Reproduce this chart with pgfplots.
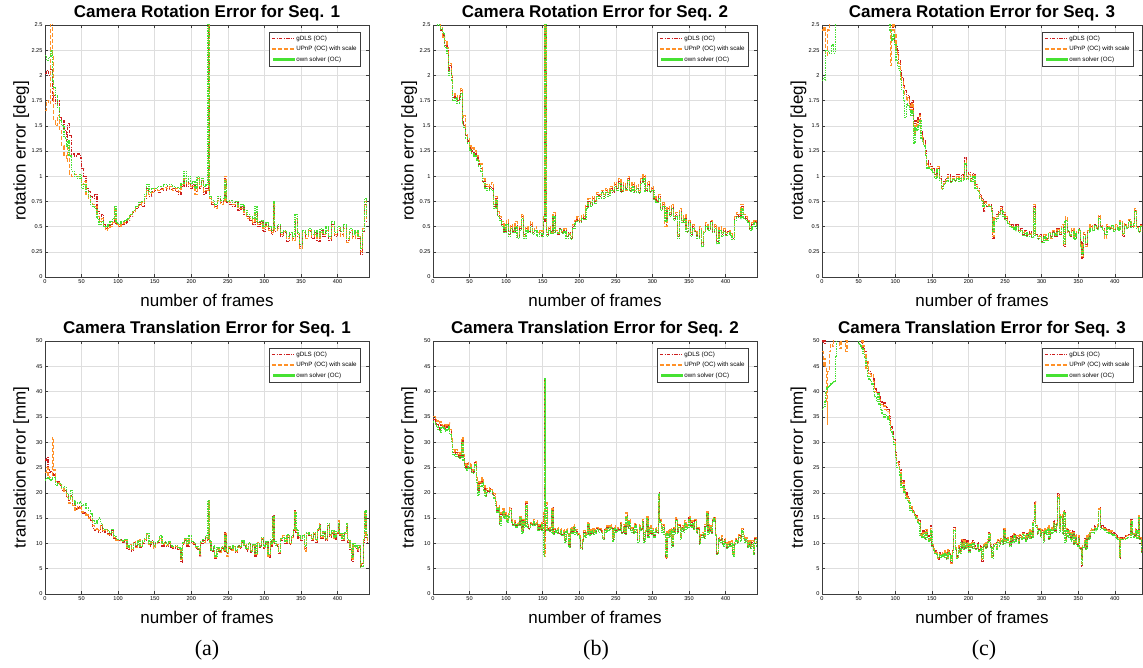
\documentclass[border=0pt]{standalone}
\usepackage{pgfplots}
\usepackage{pgfplotstable}
\usepackage{fontspec}
\setmainfont{Liberation Sans}
\newfontfamily\seriffont{Liberation Serif}
\pgfplotsset{compat=1.18}
\definecolor{lineRed}{RGB}{205,30,30}
\definecolor{lineOrange}{RGB}{255,145,40}
\definecolor{lineGreen}{RGB}{70,225,50}
\definecolor{axgray}{RGB}{60,60,60}

\pgfplotstableread{
x g u o
0 2.02 1.65 2.20
2 2.05 1.75 2.15
5 2.00 1.72 2.18
8 2.06 2.80 2.25
10 1.75 2.20 1.95
12 1.80 1.55 1.88
14 1.72 1.50 1.80
17 1.75 1.60 1.68
20 1.58 1.45 1.55
23 1.55 1.30 1.50
26 1.45 1.20 1.38
29 1.35 1.15 1.30
31 1.52 1.30 1.35
33 1.40 1.02 1.20
36 1.22 1.00 1.05
40 1.20 1.02 1.00
44 1.22 1.00 0.98
48 1.18 0.98 1.02
50 1.08 0.92 0.88
53 1.00 0.95 0.92
56 0.88 0.82 0.85
59 0.85 0.78 0.80
62 0.80 0.74 0.72
65 0.78 0.72 0.70
68 0.82 0.70 0.68
71 0.65 0.60 0.58
74 0.58 0.55 0.52
77 0.62 0.58 0.55
80 0.52 0.50 0.50
83 0.48 0.46 0.50
86 0.50 0.48 0.52
89 0.52 0.50 0.55
92 0.55 0.54 0.58
95 0.65 0.68 0.70
97 0.52 0.52 0.54
100 0.50 0.50 0.52
104 0.52 0.53 0.55
108 0.53 0.54 0.56
112 0.56 0.57 0.58
116 0.60 0.61 0.62
120 0.64 0.65 0.66
124 0.68 0.70 0.70
128 0.72 0.71 0.74
132 0.70 0.74 0.75
136 0.78 0.80 0.82
139 0.88 0.86 0.92
142 0.80 0.82 0.84
146 0.85 0.84 0.88
150 0.86 0.88 0.88
154 0.84 0.86 0.90
158 0.88 0.87 0.90
162 0.86 0.89 0.92
166 0.90 0.88 0.91
170 0.87 0.90 0.92
174 0.88 0.86 0.90
178 0.85 0.88 0.89
182 0.82 0.85 0.88
186 0.90 0.92 0.93
190 0.95 0.98 1.05
193 0.90 0.92 0.95
196 0.95 0.93 1.00
199 0.88 0.90 0.93
202 0.92 0.90 0.95
205 0.85 0.82 0.88
208 0.96 0.98 1.00
211 0.88 0.90 0.92
214 0.95 0.96 0.98
217 0.82 0.85 0.90
220 0.88 0.86 0.92
223 2.80 2.80 2.80
225 0.80 0.78 0.80
228 0.72 0.74 0.76
232 0.70 0.68 0.72
236 0.78 0.76 0.80
240 0.74 0.72 0.76
244 0.76 0.75 0.78
246 0.98 1.00 0.96
248 0.74 0.76 0.75
252 0.72 0.74 0.76
256 0.70 0.72 0.74
260 0.74 0.72 0.75
264 0.66 0.68 0.70
268 0.70 0.68 0.72
272 0.62 0.64 0.66
276 0.60 0.58 0.62
280 0.56 0.58 0.60
284 0.52 0.54 0.58
287 0.65 0.62 0.70
290 0.50 0.52 0.54
294 0.55 0.53 0.56
298 0.45 0.48 0.50
302 0.52 0.50 0.54
306 0.48 0.46 0.50
310 0.42 0.44 0.46
312 0.70 0.72 0.75
314 0.45 0.46 0.48
318 0.50 0.48 0.52
322 0.40 0.42 0.44
326 0.44 0.45 0.46
330 0.35 0.38 0.40
334 0.42 0.40 0.44
338 0.38 0.36 0.40
342 0.55 0.58 0.62
345 0.40 0.42 0.44
348 0.30 0.28 0.32
352 0.42 0.44 0.46
356 0.40 0.38 0.42
360 0.45 0.46 0.48
364 0.38 0.40 0.42
368 0.44 0.42 0.46
372 0.35 0.38 0.40
376 0.46 0.44 0.48
380 0.40 0.42 0.43
384 0.48 0.46 0.50
388 0.36 0.38 0.40
392 0.52 0.50 0.55
396 0.40 0.42 0.44
400 0.46 0.48 0.50
404 0.42 0.40 0.45
408 0.50 0.48 0.52
412 0.36 0.34 0.38
416 0.44 0.46 0.48
420 0.40 0.38 0.42
424 0.45 0.44 0.46
428 0.38 0.40 0.40
431 0.22 0.25 0.28
434 0.45 0.48 0.46
437 0.72 0.75 0.78
440 0.55 0.58 0.60
}\tRa

\pgfplotstableread{
x g u o
0 2.80 2.80 2.80
6 2.52 2.55 2.50
10 2.45 2.48 2.46
13 2.40 2.38 2.42
16 2.30 2.35 2.28
19 2.25 2.28 2.22
21 2.05 2.10 2.00
23 2.10 2.12 2.05
25 1.98 2.00 1.95
27 1.78 1.80 1.75
30 1.80 1.82 1.78
33 1.75 1.78 1.72
36 1.78 1.80 1.76
38 1.85 1.87 1.82
40 1.55 1.58 1.52
42 1.50 1.60 1.48
44 1.40 1.42 1.38
47 1.35 1.38 1.33
50 1.28 1.30 1.26
53 1.25 1.28 1.22
56 1.22 1.25 1.20
59 1.18 1.20 1.16
62 1.12 1.15 1.10
65 1.08 1.12 1.05
68 0.95 0.98 0.94
71 0.90 0.92 0.88
74 0.88 0.90 0.86
77 0.90 0.92 0.88
80 0.88 0.94 0.86
83 0.70 0.72 0.68
86 0.78 0.80 0.76
88 0.62 0.65 0.60
91 0.58 0.60 0.56
94 0.52 0.55 0.50
97 0.45 0.48 0.44
100 0.55 0.57 0.52
103 0.42 0.45 0.40
106 0.50 0.52 0.48
109 0.45 0.46 0.44
112 0.52 0.55 0.50
115 0.40 0.42 0.38
118 0.48 0.50 0.46
121 0.60 0.62 0.58
124 0.42 0.40 0.38
127 0.48 0.50 0.46
130 0.45 0.46 0.44
133 0.52 0.55 0.50
136 0.44 0.45 0.42
139 0.48 0.50 0.46
142 0.42 0.44 0.40
146 0.45 0.46 0.44
149 0.40 0.42 0.40
151 0.55 0.60 0.58
153 2.80 2.80 2.80
155 0.42 0.44 0.40
158 0.48 0.50 0.46
161 0.45 0.44 0.43
164 0.62 0.64 0.60
167 0.45 0.46 0.44
170 0.42 0.44 0.43
173 0.48 0.46 0.47
176 0.44 0.45 0.43
179 0.46 0.48 0.45
182 0.40 0.42 0.38
185 0.44 0.43 0.42
188 0.38 0.40 0.37
191 0.50 0.52 0.48
194 0.55 0.56 0.54
197 0.58 0.60 0.56
200 0.55 0.56 0.54
203 0.60 0.62 0.58
206 0.58 0.60 0.57
209 0.70 0.72 0.68
212 0.75 0.78 0.74
215 0.72 0.74 0.70
218 0.78 0.80 0.76
221 0.75 0.76 0.73
224 0.82 0.84 0.80
227 0.80 0.82 0.78
230 0.85 0.86 0.84
233 0.80 0.82 0.78
236 0.86 0.88 0.84
239 0.82 0.84 0.80
242 0.88 0.90 0.86
245 0.84 0.86 0.85
248 0.92 0.94 0.90
251 0.88 0.90 0.86
254 0.95 0.98 0.93
257 0.85 0.86 0.84
260 0.92 0.94 0.90
263 0.88 0.86 0.87
266 0.98 1.00 0.96
269 0.86 0.88 0.85
272 0.92 0.94 0.90
275 0.85 0.86 0.84
278 0.90 0.92 0.88
281 0.84 0.86 0.83
284 0.95 0.98 0.93
287 1.00 1.02 0.98
290 0.86 0.88 0.85
293 0.92 0.95 0.90
296 0.85 0.86 0.84
299 0.88 0.90 0.86
302 0.78 0.80 0.76
305 0.75 0.76 0.74
308 0.80 0.82 0.78
311 0.68 0.70 0.66
314 0.72 0.74 0.70
317 0.52 0.50 0.55
320 0.68 0.70 0.66
323 0.62 0.64 0.60
326 0.70 0.72 0.68
329 0.58 0.60 0.56
332 0.62 0.64 0.60
334 0.40 0.42 0.38
337 0.65 0.68 0.64
340 0.55 0.56 0.54
343 0.60 0.62 0.58
346 0.45 0.48 0.44
349 0.55 0.56 0.53
352 0.42 0.44 0.40
355 0.50 0.52 0.48
358 0.45 0.46 0.44
361 0.40 0.42 0.38
364 0.48 0.50 0.46
367 0.32 0.34 0.30
370 0.45 0.46 0.44
373 0.52 0.54 0.50
376 0.48 0.50 0.46
379 0.55 0.56 0.54
382 0.45 0.48 0.44
385 0.50 0.52 0.48
388 0.35 0.38 0.33
391 0.48 0.50 0.46
394 0.42 0.44 0.40
397 0.46 0.48 0.45
400 0.42 0.44 0.41
403 0.45 0.46 0.44
406 0.42 0.43 0.41
409 0.38 0.40 0.37
412 0.58 0.60 0.56
415 0.62 0.64 0.60
418 0.60 0.62 0.58
421 0.70 0.72 0.68
424 0.60 0.62 0.58
427 0.58 0.60 0.56
430 0.55 0.56 0.54
433 0.48 0.50 0.46
436 0.52 0.54 0.50
439 0.55 0.56 0.54
442 0.50 0.52 0.48
}\tRb

\pgfplotstableread{
x g u o
0 3.00 2.45 1.95
2 3.00 2.48 1.98
4 3.00 2.45 1.95
5 3.00 2.20 2.25
7 3.00 2.45 2.24
10 3.00 3.00 2.22
13 3.00 3.00 2.30
16 3.00 3.00 2.22
18 3.00 3.00 3.00
93 2.55 2.10 2.45
95 2.50 2.45 2.35
97 2.45 2.55 2.40
99 2.35 2.40 2.30
101 2.30 2.25 2.15
103 2.25 2.20 2.10
105 2.15 2.12 2.05
107 2.05 2.00 1.95
109 1.98 1.95 1.85
111 1.90 1.88 1.75
113 1.85 1.80 1.58
115 1.78 1.75 1.72
117 1.80 1.78 1.70
119 1.72 1.70 1.65
121 1.68 1.65 1.60
123 1.75 1.72 1.65
125 1.52 1.42 1.33
127 1.55 1.52 1.48
129 1.50 1.48 1.45
131 1.58 1.55 1.50
133 1.62 1.60 1.55
135 1.45 1.42 1.38
137 1.40 1.38 1.35
139 1.35 1.32 1.30
141 1.25 1.22 1.20
143 1.15 1.12 1.08
145 1.12 1.10 1.08
148 1.10 1.08 1.06
151 1.08 1.05 1.04
154 1.02 1.00 0.98
157 1.08 1.10 1.06
160 1.00 0.98 0.96
163 0.90 0.88 0.87
166 0.95 0.93 0.92
169 0.98 0.96 0.95
172 1.02 1.00 0.98
175 0.95 0.96 0.94
178 1.00 0.98 0.97
181 0.96 0.97 0.95
184 1.02 1.00 0.98
187 0.98 0.96 0.95
190 1.02 1.00 0.98
193 0.98 0.97 0.96
195 1.18 1.15 1.12
197 1.00 0.98 0.97
200 1.04 1.02 1.00
203 0.98 0.96 0.95
206 1.03 1.01 1.00
209 0.92 0.90 0.88
212 0.88 0.86 0.85
215 0.82 0.80 0.78
218 0.78 0.76 0.75
220 0.65 0.68 0.70
222 0.75 0.74 0.72
225 0.70 0.72 0.70
228 0.72 0.70 0.70
231 0.68 0.66 0.65
233 0.38 0.40 0.45
235 0.58 0.60 0.55
238 0.62 0.60 0.58
241 0.65 0.64 0.62
244 0.70 0.68 0.66
247 0.62 0.64 0.60
250 0.58 0.60 0.56
253 0.55 0.54 0.53
256 0.50 0.52 0.50
259 0.52 0.50 0.49
262 0.48 0.47 0.46
265 0.52 0.50 0.50
268 0.45 0.46 0.44
271 0.48 0.46 0.46
274 0.42 0.44 0.41
277 0.46 0.45 0.44
280 0.40 0.42 0.40
283 0.45 0.43 0.42
286 0.40 0.41 0.39
289 0.70 0.72 0.68
291 0.42 0.40 0.41
294 0.38 0.40 0.37
297 0.42 0.41 0.40
300 0.35 0.36 0.34
303 0.40 0.42 0.40
306 0.38 0.37 0.36
309 0.42 0.44 0.43
312 0.40 0.38 0.39
315 0.45 0.46 0.44
318 0.40 0.42 0.41
321 0.48 0.47 0.45
324 0.42 0.44 0.43
327 0.50 0.52 0.48
330 0.30 0.32 0.33
332 0.58 0.60 0.56
335 0.45 0.44 0.46
338 0.40 0.42 0.41
341 0.46 0.48 0.45
344 0.38 0.40 0.37
347 0.44 0.45 0.43
350 0.48 0.46 0.47
353 0.35 0.33 0.30
355 0.18 0.20 0.22
357 0.42 0.44 0.40
360 0.32 0.30 0.34
363 0.45 0.46 0.44
366 0.50 0.52 0.48
369 0.48 0.47 0.46
372 0.52 0.50 0.51
375 0.48 0.49 0.47
378 0.60 0.62 0.58
380 0.50 0.51 0.49
383 0.48 0.47 0.46
386 0.40 0.38 0.42
389 0.50 0.52 0.49
392 0.48 0.49 0.47
395 0.50 0.48 0.51
398 0.46 0.47 0.45
401 0.50 0.52 0.49
404 0.48 0.47 0.46
407 0.55 0.56 0.54
410 0.40 0.42 0.43
413 0.52 0.53 0.51
416 0.50 0.49 0.48
419 0.56 0.57 0.55
422 0.50 0.51 0.49
425 0.52 0.50 0.53
427 0.66 0.68 0.65
429 0.50 0.49 0.48
432 0.45 0.46 0.44
435 0.52 0.51 0.50
438 0.44 0.45 0.43
440 0.48 0.47 0.46
}\tRc

\pgfplotstableread{
x g u o
0 26.5 24.0 22.5
2 27.0 25.0 23.0
4 24.5 23.5 22.8
6 24.0 23.0 22.5
8 24.2 23.2 22.6
10 23.8 31.0 23.0
12 23.5 24.5 23.0
14 22.0 22.2 21.5
17 22.2 22.0 21.8
20 21.5 21.6 21.8
23 20.5 20.8 21.0
26 20.5 20.2 21.2
29 19.2 19.0 19.8
32 18.5 18.0 19.0
35 19.5 19.2 20.5
38 17.8 17.5 18.5
41 16.8 16.5 17.8
44 17.0 17.2 18.0
47 17.2 17.0 18.2
50 16.0 16.2 17.5
53 16.0 15.8 17.8
56 15.5 15.6 17.0
59 15.2 15.0 16.5
62 14.5 15.0 15.8
65 13.0 13.5 14.5
68 12.5 12.8 14.0
71 12.8 13.0 14.5
73 12.2 12.5 15.0
76 13.5 13.8 14.0
79 12.2 12.5 13.0
82 12.5 12.8 12.8
85 12.0 11.8 12.5
88 11.5 11.8 12.0
91 12.5 12.2 12.8
94 11.0 11.2 11.5
97 10.8 10.6 11.0
100 10.5 10.6 10.8
103 10.8 10.5 10.6
106 10.2 10.4 10.5
109 10.8 10.6 10.8
112 8.8 9.0 9.2
115 9.5 9.8 9.5
118 8.5 8.8 9.0
121 10.2 10.4 10.0
124 9.5 9.2 9.6
127 10.5 10.8 10.6
130 9.2 9.4 9.5
133 10.0 10.2 10.5
136 10.5 10.8 11.0
139 11.5 11.8 12.0
142 9.5 9.8 10.0
145 10.5 10.2 10.4
148 9.2 9.0 9.5
151 10.0 9.8 10.2
154 10.2 10.4 10.5
157 10.8 11.0 11.5
160 9.5 9.8 10.0
163 10.2 10.0 10.4
166 9.5 9.6 9.8
169 10.0 10.2 10.4
172 9.2 9.4 9.5
175 9.0 9.2 9.4
178 9.5 9.4 9.6
181 8.8 9.0 9.2
184 9.0 8.8 9.1
186 6.2 6.8 7.0
188 9.8 10.0 10.2
191 10.5 10.8 11.0
194 9.5 9.8 10.0
197 10.8 11.0 11.5
200 10.2 10.0 10.4
203 9.8 10.0 10.2
206 9.0 9.2 9.4
209 8.8 9.0 9.0
211 7.5 7.8 8.0
213 10.0 10.2 10.4
216 10.5 10.2 10.8
219 11.0 11.2 11.5
222 10.5 10.8 11.0
223 18.5 18.2 18.5
225 10.0 10.2 10.5
227 8.5 8.8 8.6
230 9.0 9.2 9.5
232 7.0 7.2 7.5
235 8.8 9.0 9.2
238 8.5 8.2 8.6
241 9.0 9.2 9.4
244 8.5 8.6 8.8
246 12.2 12.0 11.5
248 8.0 7.5 8.2
251 9.0 9.2 9.4
254 8.8 8.6 9.0
257 9.2 9.4 9.5
260 8.2 8.5 8.6
263 9.5 9.2 9.6
266 9.0 9.2 9.4
269 10.2 10.4 10.5
272 9.5 9.8 9.6
275 8.5 8.8 9.0
278 9.8 10.0 10.2
281 8.2 8.5 8.4
284 9.5 9.6 9.8
287 7.5 7.8 8.0
290 10.0 10.2 10.0
293 9.2 9.5 9.4
296 10.8 11.0 11.2
299 9.0 9.2 9.5
302 10.2 10.0 10.4
305 7.2 7.5 7.8
308 10.5 10.2 10.8
310 9.5 9.8 10.0
311 15.5 15.0 15.2
313 10.0 10.2 10.4
316 9.5 9.8 9.6
319 8.0 8.2 8.5
322 10.5 10.8 11.0
325 11.2 11.5 11.2
328 10.0 10.2 10.5
331 11.2 11.5 11.8
334 9.8 10.0 10.2
337 11.0 11.2 11.5
340 12.5 12.8 13.0
341 16.5 16.2 16.0
343 12.2 12.5 12.8
346 11.0 11.2 11.5
349 10.5 10.8 11.0
352 11.5 11.8 11.6
355 9.0 8.5 9.5
358 11.8 12.0 12.2
361 11.5 11.6 11.8
364 10.5 10.8 11.0
367 11.8 12.0 12.2
370 10.2 10.5 10.8
373 12.5 12.8 13.0
375 13.8 14.0 13.5
377 11.0 11.2 11.5
380 12.0 12.2 12.4
383 10.5 10.8 11.0
386 13.5 13.8 14.0
389 11.2 11.5 11.8
392 12.0 12.2 12.5
395 10.8 11.0 11.2
398 12.0 12.2 12.4
401 14.2 14.5 14.0
403 11.5 11.8 12.0
406 10.5 10.8 11.0
409 11.8 12.0 12.2
412 13.5 13.8 14.0
414 10.2 10.5 10.8
417 8.5 8.8 9.0
419 6.5 6.8 7.2
421 9.5 9.8 10.0
424 9.0 9.2 9.5
427 8.5 8.8 9.0
429 9.2 9.4 9.6
431 5.5 5.8 5.2
433 6.0 6.2 5.5
435 10.0 10.5 11.0
437 15.5 16.0 16.5
439 11.0 11.5 12.0
441 10.0 10.5 11.0
}\tTa

\pgfplotstableread{
x g u o
0 34.5 35.0 34.0
3 34.0 34.8 33.5
5 33.5 34.2 33.0
7 33.2 33.8 32.5
9 32.5 34.0 32.0
11 33.5 33.5 33.0
13 33.0 33.2 32.8
15 33.2 33.5 32.5
17 32.8 33.0 32.2
19 33.0 33.5 32.5
21 33.5 33.8 33.0
23 32.0 32.5 31.5
25 30.5 31.0 30.0
27 28.0 28.5 27.5
29 27.5 28.0 27.2
31 28.0 28.5 27.5
33 27.2 27.5 27.0
35 27.5 28.0 27.2
37 27.0 27.5 26.8
39 30.5 31.0 30.0
41 27.0 27.5 26.5
43 25.5 26.0 25.0
45 25.0 25.5 24.5
47 25.8 26.0 25.2
49 25.0 25.2 24.8
51 25.5 25.8 25.0
53 24.2 24.5 24.0
55 24.0 24.5 23.8
57 26.0 26.2 25.5
59 22.5 23.0 22.0
61 20.5 21.0 19.5
63 22.0 22.2 21.5
65 21.5 22.0 21.2
67 22.5 23.0 22.0
69 21.0 21.5 20.5
71 19.5 20.0 19.2
73 20.5 20.8 20.0
75 20.2 20.5 20.0
77 20.8 21.0 20.5
79 20.5 20.6 20.2
81 19.8 20.0 19.5
83 19.5 19.8 19.0
85 18.0 18.2 17.5
87 16.5 17.0 16.2
89 17.2 17.5 17.0
91 14.0 14.5 13.5
93 15.8 16.0 15.5
95 16.5 16.8 16.2
97 15.2 15.5 15.0
99 15.8 16.0 15.5
101 14.5 14.8 14.2
103 15.5 15.8 15.2
105 16.8 17.0 16.5
107 14.5 14.8 14.2
109 13.8 14.0 13.5
111 14.2 14.5 14.0
113 13.5 13.8 13.2
115 14.0 14.2 13.8
117 13.8 14.0 13.5
119 15.2 15.5 15.0
121 12.5 12.8 12.0
123 14.5 14.8 14.2
125 13.5 13.8 13.2
127 18.0 18.2 17.5
129 13.5 13.8 13.2
131 13.0 13.2 12.8
133 14.0 14.2 13.8
135 13.8 14.0 13.5
137 14.5 14.8 14.2
139 13.8 14.0 13.5
141 14.2 14.5 14.0
143 12.8 13.0 12.5
145 13.5 13.8 13.2
147 12.8 13.0 12.5
149 14.0 14.2 13.8
151 15.5 16.0 7.5
152 8.0 7.5 15.0
153 42.5 42.0 42.5
154 17.5 18.0 17.0
156 12.8 13.0 12.5
158 13.0 13.2 12.8
160 12.5 12.8 12.2
162 17.0 16.8 16.5
164 12.0 12.2 11.8
166 12.8 13.0 12.5
168 12.2 12.5 12.0
170 13.0 13.2 12.8
172 12.0 12.2 11.8
174 12.8 13.0 12.5
176 11.8 12.0 11.5
178 12.5 12.8 12.2
180 10.5 10.8 10.2
182 12.8 13.0 12.5
184 12.0 12.2 11.8
186 9.5 10.0 9.2
188 13.0 13.2 12.8
190 12.2 12.5 12.0
192 13.5 13.8 13.2
194 12.0 12.2 11.8
196 12.5 12.8 12.2
198 11.8 12.0 11.5
200 11.2 11.5 11.0
202 9.0 9.2 8.8
204 10.5 10.8 10.2
206 12.2 12.5 12.0
208 11.5 11.8 11.2
210 12.0 12.2 11.8
212 14.0 14.2 13.8
214 11.8 12.0 11.5
216 12.8 13.0 12.5
218 12.0 12.2 11.8
220 12.8 13.0 12.5
222 12.2 12.5 12.0
224 13.0 13.2 12.8
226 12.5 12.8 12.2
228 12.8 13.0 12.5
230 12.2 12.5 12.0
232 11.0 11.2 10.8
234 12.8 13.0 12.5
236 12.5 12.8 12.2
238 13.2 13.5 13.0
240 12.8 13.0 12.5
242 13.5 13.8 13.2
244 13.0 13.2 12.8
246 10.8 11.0 10.5
248 13.2 13.5 13.0
250 12.5 12.8 12.2
252 13.0 13.2 12.8
254 12.8 13.0 12.5
256 14.0 14.2 13.8
258 12.2 12.5 12.0
260 13.5 13.8 13.2
262 12.0 12.2 11.8
264 15.5 16.0 15.2
266 13.2 13.5 13.0
268 14.5 14.8 14.2
270 12.5 12.8 12.2
272 13.0 13.2 12.8
274 12.2 12.5 12.0
276 13.8 14.0 13.5
278 12.5 12.8 12.2
280 10.5 10.8 10.2
282 13.5 13.8 13.2
284 12.8 13.0 12.5
286 14.5 14.8 14.2
288 10.5 10.8 10.2
290 12.5 12.8 12.2
292 15.0 15.2 14.8
294 11.5 11.8 11.2
296 13.2 13.5 13.0
298 12.0 12.2 11.8
300 12.8 13.0 12.5
302 11.5 11.8 11.2
304 13.0 13.2 12.8
306 12.2 12.5 12.0
308 20.0 19.5 19.8
310 14.5 14.8 14.2
312 12.5 12.8 12.2
314 13.5 13.8 13.2
316 12.0 12.2 11.8
318 7.0 7.2 7.5
320 12.2 12.5 12.0
322 11.5 11.8 11.2
324 12.8 13.0 12.5
326 9.5 9.8 9.2
328 13.0 13.2 12.8
330 12.0 12.2 11.8
332 14.8 15.0 14.5
334 12.2 12.5 12.0
336 13.5 13.8 13.2
338 11.0 11.2 10.8
340 13.2 13.5 13.0
342 12.5 12.8 12.2
344 14.2 14.5 14.0
346 13.0 13.2 12.8
348 13.5 13.8 13.2
350 15.0 15.2 14.8
352 13.5 13.8 13.2
354 14.2 14.5 14.0
356 13.0 13.2 12.8
358 14.5 14.8 14.2
360 12.2 12.5 12.0
362 13.0 13.2 12.8
364 10.0 10.2 9.8
366 11.5 11.8 11.2
368 12.0 12.2 11.8
370 11.2 11.5 11.0
372 13.5 13.8 13.2
374 16.0 16.2 15.8
376 12.0 12.2 11.8
378 13.5 13.8 13.2
380 12.2 12.5 12.0
382 14.5 14.8 14.2
384 15.0 15.2 14.8
386 11.8 12.0 11.5
388 8.0 8.2 7.8
390 11.0 11.2 10.8
392 10.5 10.8 10.2
394 11.2 11.5 11.0
396 9.8 10.0 9.5
398 10.8 11.0 10.5
400 10.0 10.2 9.8
402 9.2 9.5 9.0
404 10.2 10.5 10.0
406 9.8 10.0 9.5
408 10.2 10.5 10.0
410 7.8 8.0 7.5
412 10.0 10.2 9.8
414 10.8 11.0 10.5
416 10.2 10.5 10.0
418 11.5 11.8 11.2
420 10.8 11.0 10.5
422 12.8 13.0 12.5
424 11.2 11.5 11.0
426 10.5 10.8 10.2
428 11.0 11.2 10.8
430 9.5 9.8 9.2
432 10.5 10.8 10.2
434 9.2 9.5 9.0
436 10.2 10.5 10.0
438 8.0 8.2 7.8
440 11.0 11.2 10.8
442 9.5 9.8 9.2
}\tTb

\pgfplotstableread{
x g u o
0 50.0 48.0 36.5
2 49.5 45.0 37.0
4 50.5 46.5 38.0
5 52.0 45.0 40.0
6 50.5 38.0 40.5
7 52.0 33.5 40.8
8 52.0 44.0 41.0
10 52.0 48.0 41.2
12 52.0 49.5 41.5
14 52.0 49.0 41.8
16 52.0 50.5 42.0
18 52.0 52.0 47.0
20 52.0 52.0 50.5
24 52.0 48.5 52.0
26 52.0 52.0 52.0
32 52.0 48.0 52.0
34 52.0 52.0 52.0
48 52.0 52.0 50.5
50 52.0 52.0 49.5
52 50.5 51.0 49.0
54 49.5 50.0 48.5
56 48.5 49.0 47.5
58 48.0 47.5 46.5
60 46.0 44.5 45.0
62 45.0 46.0 43.0
64 44.0 43.5 42.5
66 43.5 43.0 42.0
68 43.2 43.5 41.5
70 42.5 42.0 40.0
72 40.5 40.0 39.0
74 40.0 39.5 38.0
76 39.8 39.5 39.5
78 39.0 38.5 37.5
80 38.0 37.5 36.5
82 37.5 37.0 35.5
84 37.8 37.2 35.0
86 37.0 36.5 35.5
88 36.8 36.2 35.0
90 36.5 36.0 34.5
92 35.0 34.5 33.5
94 33.0 32.5 32.0
96 32.0 31.5 31.0
98 30.5 30.0 29.5
100 28.0 27.5 27.0
102 26.0 26.0 25.0
104 26.2 25.5 25.0
106 24.5 24.0 23.5
108 22.0 21.5 21.0
110 22.5 22.0 21.2
112 21.0 20.5 20.0
114 20.0 19.5 19.0
116 19.2 19.0 18.5
118 19.0 18.5 18.0
120 17.5 17.0 16.5
122 17.0 17.2 16.5
124 16.5 16.2 16.0
126 16.0 15.8 15.5
128 15.5 15.2 15.0
130 14.8 14.5 14.2
132 14.5 14.2 14.0
134 12.0 11.8 11.5
136 11.8 11.5 11.2
138 12.5 12.2 12.0
140 11.0 11.2 10.8
142 12.5 12.8 12.2
144 11.5 11.2 11.0
146 11.0 10.8 10.5
148 13.5 13.0 12.5
150 9.5 9.8 9.2
152 8.8 9.0 8.5
154 8.5 8.2 8.0
156 8.0 8.2 7.8
158 6.8 7.0 7.2
160 8.2 8.0 7.8
162 7.5 7.8 7.2
164 8.0 8.2 7.8
166 7.8 7.5 7.2
168 8.2 8.5 8.0
170 7.0 7.2 6.8
172 8.5 8.8 8.2
174 7.8 8.0 7.5
176 6.2 6.0 6.5
178 8.5 8.8 8.2
180 13.2 13.0 12.5
182 9.0 9.2 8.8
184 7.5 7.2 7.0
186 9.2 9.5 9.0
188 8.5 8.2 8.0
190 10.5 10.8 10.2
192 9.0 9.2 8.8
194 10.8 10.5 10.2
196 9.2 9.5 9.0
198 10.5 10.2 10.0
200 8.5 8.8 8.2
202 10.0 10.2 9.8
204 9.2 9.5 9.0
206 10.5 10.2 10.0
208 9.5 9.2 9.0
210 9.0 9.2 8.8
212 10.2 10.0 9.8
214 8.8 9.0 8.5
216 9.5 9.2 9.0
218 6.5 6.8 7.0
220 9.5 9.8 9.2
222 10.0 10.2 9.8
224 9.2 9.5 9.0
226 10.5 10.8 10.2
228 12.2 12.0 11.8
230 9.5 9.8 9.2
232 7.2 7.5 7.0
234 9.8 10.0 9.5
236 10.2 10.0 9.8
238 9.0 9.2 8.8
240 10.5 10.8 10.2
242 9.8 10.0 9.5
244 10.8 11.0 10.5
246 10.0 10.2 9.8
248 12.8 13.0 12.5
250 10.5 10.2 10.0
252 11.0 11.2 10.8
254 10.2 10.5 10.0
256 9.8 10.0 9.5
258 11.5 11.2 11.0
260 10.5 10.8 10.2
262 11.8 12.0 11.5
264 10.8 11.0 10.5
266 11.2 11.5 11.0
268 10.2 10.5 10.0
270 11.5 11.8 11.2
272 11.0 11.2 10.8
274 12.2 12.0 11.8
276 11.2 11.5 11.0
278 10.8 11.0 10.5
280 12.0 12.2 11.8
282 11.5 11.2 11.0
284 12.5 12.8 12.2
286 11.2 11.5 11.0
288 14.5 14.2 14.0
290 18.2 18.0 17.5
292 13.5 13.8 13.2
294 12.0 12.2 11.8
296 12.8 13.0 12.5
298 11.5 11.8 11.2
300 12.5 12.8 12.2
302 10.5 10.8 10.2
304 12.8 13.0 12.5
306 12.0 12.2 11.8
308 13.2 13.5 13.0
310 11.0 11.2 10.8
312 13.0 13.2 12.8
314 12.2 12.5 12.0
316 14.5 14.2 14.0
318 12.5 12.8 12.2
320 13.8 14.0 13.5
322 19.8 19.5 19.0
324 12.5 12.8 12.2
326 15.5 15.8 15.2
328 12.0 12.2 11.8
330 16.5 16.2 16.0
332 10.5 10.8 10.2
334 12.8 13.0 12.5
336 11.5 11.8 11.2
338 12.2 12.5 12.0
340 10.8 11.0 10.5
342 12.5 12.2 12.0
344 10.0 10.2 9.8
346 11.5 11.8 11.2
348 9.8 10.0 9.5
350 11.2 11.5 11.0
352 9.0 9.2 8.8
354 5.5 6.0 5.8
356 9.5 9.8 9.2
358 11.0 10.8 10.5
360 9.0 9.2 8.8
362 11.5 11.8 11.2
364 11.0 11.2 10.8
366 12.2 12.5 12.0
368 12.8 13.0 12.5
370 12.2 12.5 12.0
372 13.5 13.2 13.0
374 12.8 13.0 12.5
376 13.5 13.8 13.2
378 17.0 16.8 16.5
380 13.0 13.2 12.8
382 13.5 13.2 13.0
384 12.8 13.0 12.5
386 13.2 13.0 12.8
388 12.5 12.8 12.2
390 12.8 12.5 12.2
392 12.5 12.2 12.0
394 12.2 12.5 12.0
396 12.0 11.8 11.5
398 12.2 12.0 11.8
400 11.8 11.5 11.2
402 11.5 11.2 11.0
404 11.0 11.2 10.8
406 7.0 7.5 7.2
408 11.2 11.0 10.8
410 11.0 11.2 10.8
412 11.2 11.0 10.8
414 11.5 11.2 11.0
416 11.2 11.5 11.0
418 11.8 11.5 11.2
420 11.5 11.8 11.2
422 14.8 14.5 14.2
424 12.0 12.2 11.8
426 11.5 11.8 11.2
428 12.8 13.0 12.5
430 11.5 11.2 11.0
432 15.2 15.5 15.0
434 11.0 11.2 10.8
436 8.5 8.8 8.2
438 9.0 9.2 8.8
440 10.5 10.2 10.0
}\tTc

\pgfplotsset{
  every axis title shift=0pt,
  legcommon/.style={legend style={font=\fontsize{6.2}{7}\selectfont, line width=0.7pt,
      at={(axis description cs:1,1)}, anchor=north east, xshift=-8pt,
      inner xsep=2pt, inner ysep=1.5pt, row sep=0.5pt, cells={anchor=west}}},
  panel/.style={
    scale only axis, anchor=south west,
    width=324pt, xmin=0, xmax=443,
    xtick={0,50,100,150,200,250,300,350,400},
    grid=major,
    major grid style={draw=black!13, line width=0.5pt},
    axis line style={draw=axgray, line width=0.6pt},
    tick style={draw=axgray, line width=0.5pt},
    tick align=inside, major tick length=3pt,
    ticklabel style={font=\fontsize{5.6}{6.5}\selectfont},
    /pgf/number format/assume math mode=true,
    xticklabel style={yshift=1pt},
    yticklabel style={xshift=1pt},
    title style={font=\bfseries\fontsize{17}{20}\selectfont, at={(axis description cs:0.5,1)}, anchor=base, yshift=7pt},
    xlabel style={font=\fontsize{17}{20}\selectfont, at={(axis description cs:0.5,0)}, anchor=base, yshift=-30pt},
    ylabel style={font=\fontsize{17}{20}\selectfont, at={(axis description cs:-0.06,0.5)}, anchor=base},
    xlabel={number of frames},
    legcommon,
    legend style={fill=white, draw=axgray, yshift=-7pt},
  },
  legov/.style={scale only axis, anchor=south west, hide axis,
    xmin=0, xmax=1, ymin=0, ymax=1, legcommon,
    legend style={fill=none, draw=none}},
  rotp/.style={height=252pt, ymin=0, ymax=2.5, ytick={0,0.25,0.5,0.75,1,1.25,1.5,1.75,2,2.25,2.5},
    ylabel={rotation error [deg]}},
  trap/.style={height=253pt, ymin=0, ymax=50, ytick={0,5,10,15,20,25,30,35,40,45,50},
    ylabel={translation error [mm]}},
  gdls/.style={const plot, color=lineRed, line width=1.2pt,
    dash pattern=on 3.5pt off 1.3pt on 1pt off 1.3pt,
    legend image code/.code={\draw[draw=lineRed, line width=1.1pt, dash pattern=on 3.5pt off 1.3pt on 1pt off 1.3pt] (0pt,0pt) -- (22pt,0pt);}},
  upnp/.style={const plot, color=lineOrange, line width=1.2pt,
    dash pattern=on 4pt off 2pt,
    legend image code/.code={}},
  own/.style={const plot, color=lineGreen, line width=1.3pt,
    dash pattern=on 1.4pt off 1pt,
    legend image code/.code={}},
  upleg/.style={legend image code/.code={\draw[draw=lineOrange, line width=1.1pt, dash pattern=on 4pt off 2pt] (0pt,0pt) -- (22pt,0pt);}},
  ownleg/.style={legend image code/.code={\fill[lineGreen] (0pt,-0.65pt) rectangle (1.4pt,0.65pt) (2.4pt,-0.65pt) rectangle (3.8pt,0.65pt) (4.8pt,-0.65pt) rectangle (6.2pt,0.65pt) (7.2pt,-0.65pt) rectangle (8.6pt,0.65pt) (9.6pt,-0.65pt) rectangle (11pt,0.65pt) (12pt,-0.65pt) rectangle (13.4pt,0.65pt) (14.4pt,-0.65pt) rectangle (15.8pt,0.65pt) (16.8pt,-0.65pt) rectangle (18.2pt,0.65pt) (19.2pt,-0.65pt) rectangle (20.6pt,0.65pt);}},
}

% legend row overlay: #1 position, #2 width, #3 height, #4 yshift, #5 image style
\newcommand{\legrow}[5]{%
  \begin{axis}[legov, at={#1}, width=#2, height=#3, legend style={yshift=#4}]
  \addlegendimage{#5}
  \addlegendentry{\phantom{UPnP (OC) with scale}}
  \end{axis}}

\begin{document}
\begin{tikzpicture}
\path[use as bounding box] (0pt,0pt) rectangle (1143pt,668pt);

% ---- row 1: rotation ----
\begin{axis}[panel, rotp, at={(45pt,391pt)}, title={Camera Rotation Error for Seq. 1}]
\addplot[gdls] table[x=x,y=g]{\tRa};
\addplot[upnp] table[x=x,y=u]{\tRa};
\addplot[own] table[x=x,y=o]{\tRa};
\legend{gDLS (OC), UPnP (OC) with scale, own solver (OC)}
\end{axis}
\legrow{(45pt,391pt)}{324pt}{252pt}{-17.2pt}{upleg}
\legrow{(45pt,391pt)}{324pt}{252pt}{-27.4pt}{ownleg}

\begin{axis}[panel, rotp, at={(433pt,391pt)}, title={Camera Rotation Error for Seq. 2}]
\addplot[gdls] table[x=x,y=g]{\tRb};
\addplot[upnp] table[x=x,y=u]{\tRb};
\addplot[own] table[x=x,y=o]{\tRb};
\legend{gDLS (OC), UPnP (OC) with scale, own solver (OC)}
\end{axis}
\legrow{(433pt,391pt)}{324pt}{252pt}{-17.2pt}{upleg}
\legrow{(433pt,391pt)}{324pt}{252pt}{-27.4pt}{ownleg}

\begin{axis}[panel, rotp, at={(822pt,391pt)}, width=320pt, xmax=437, title={Camera Rotation Error for Seq. 3}]
\addplot[gdls] table[x=x,y=g]{\tRc};
\addplot[upnp] table[x=x,y=u]{\tRc};
\addplot[own] table[x=x,y=o]{\tRc};
\legend{gDLS (OC), UPnP (OC) with scale, own solver (OC)}
\end{axis}
\legrow{(822pt,391pt)}{320pt}{252pt}{-17.2pt}{upleg}
\legrow{(822pt,391pt)}{320pt}{252pt}{-27.4pt}{ownleg}

% ---- row 2: translation ----
\begin{axis}[panel, trap, at={(45pt,74pt)}, title={Camera Translation Error for Seq. 1}]
\addplot[gdls] table[x=x,y=g]{\tTa};
\addplot[upnp] table[x=x,y=u]{\tTa};
\addplot[own] table[x=x,y=o]{\tTa};
\legend{gDLS (OC), UPnP (OC) with scale, own solver (OC)}
\end{axis}
\legrow{(45pt,74pt)}{324pt}{253pt}{-17.2pt}{upleg}
\legrow{(45pt,74pt)}{324pt}{253pt}{-27.4pt}{ownleg}

\begin{axis}[panel, trap, at={(433pt,74pt)}, title={Camera Translation Error for Seq. 2}]
\addplot[gdls] table[x=x,y=g]{\tTb};
\addplot[upnp] table[x=x,y=u]{\tTb};
\addplot[own] table[x=x,y=o]{\tTb};
\legend{gDLS (OC), UPnP (OC) with scale, own solver (OC)}
\end{axis}
\legrow{(433pt,74pt)}{324pt}{253pt}{-17.2pt}{upleg}
\legrow{(433pt,74pt)}{324pt}{253pt}{-27.4pt}{ownleg}

\begin{axis}[panel, trap, at={(822pt,74pt)}, width=320pt, xmax=437, title={Camera Translation Error for Seq. 3}]
\addplot[gdls] table[x=x,y=g]{\tTc};
\addplot[upnp] table[x=x,y=u]{\tTc};
\addplot[own] table[x=x,y=o]{\tTc};
\legend{gDLS (OC), UPnP (OC) with scale, own solver (OC)}
\end{axis}
\legrow{(822pt,74pt)}{320pt}{253pt}{-17.2pt}{upleg}
\legrow{(822pt,74pt)}{320pt}{253pt}{-27.4pt}{ownleg}

\node[font=\seriffont\fontsize{22}{25}\selectfont] at (207pt,18pt) {(a)};
\node[font=\seriffont\fontsize{22}{25}\selectfont] at (596pt,18pt) {(b)};
\node[font=\seriffont\fontsize{22}{25}\selectfont] at (984pt,18pt) {(c)};
\end{tikzpicture}
\end{document}
